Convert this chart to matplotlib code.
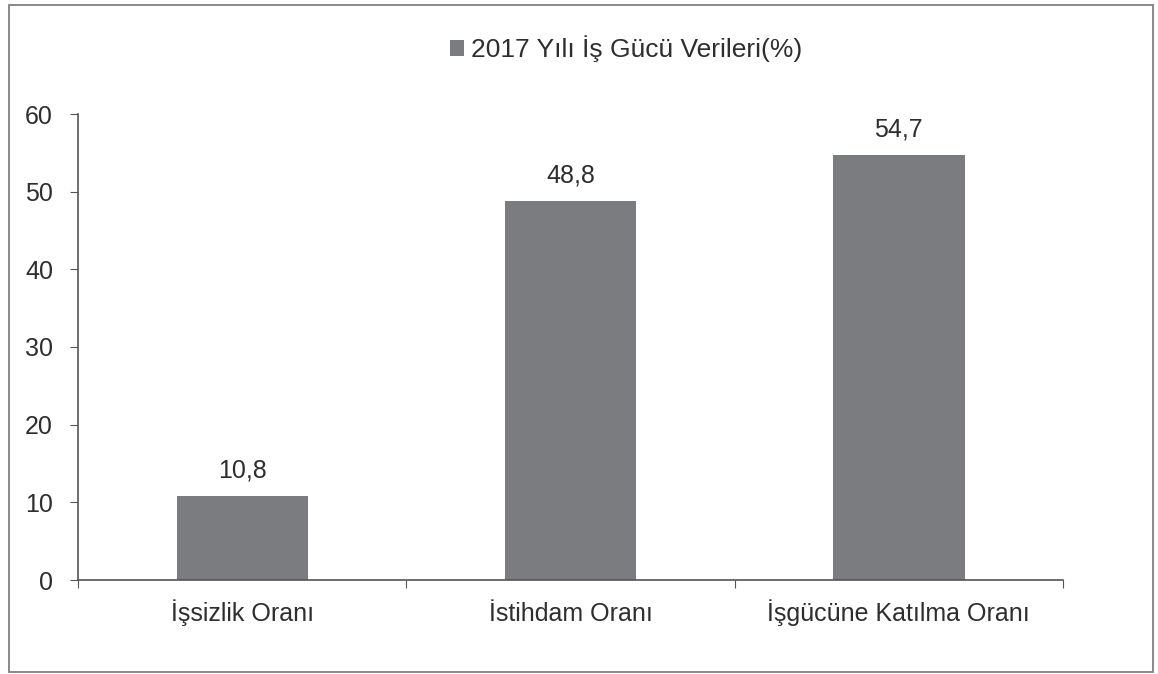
import matplotlib
matplotlib.use("Agg")
import matplotlib.pyplot as plt
from matplotlib.patches import Rectangle

plt.rcParams['font.family'] = ['Liberation Sans', 'DejaVu Sans']

categories = ["İşsizlik Oranı", "İstihdam Oranı", "İşgücüne Katılma Oranı"]
values = [10.8, 48.8, 54.7]
value_labels = ["10,8", "48,8", "54,7"]
series_name = "2017 Yılı İş Gücü Verileri(%)"
yticks = [0, 10, 20, 30, 40, 50, 60]

bar_color = "#7a7c80"
axis_color = "#555555"
text_color = "#2e2e2e"
FS = 18

W, H = 1158, 674
fig = plt.figure(figsize=(W / 100, H / 100), dpi=100)
fig.patch.set_facecolor("white")

# outer frame around the whole chart
fig.patches.append(Rectangle((9 / W, 1 - 672 / H), 1144 / W, 667 / H,
                             transform=fig.transFigure, fill=False,
                             edgecolor="#808080", linewidth=1.3))

ax = fig.add_axes([78 / W, 1 - 580 / H, 985 / W, 466 / H])
x = list(range(len(categories)))
bars = ax.bar(x, values, width=0.4, color=bar_color, label=series_name, zorder=2)

for xi, v, lab in zip(x, values, value_labels):
    ax.annotate(lab, (xi, v), xytext=(0, 13.5), textcoords="offset points",
                ha="center", va="baseline", fontsize=FS, color=text_color)

ax.set_xlim(-0.5, len(categories) - 0.5)
ax.set_ylim(0, 60)
ax.set_yticks(yticks)
ax.set_yticklabels([str(t) for t in yticks], fontsize=FS, color=text_color)
ax.tick_params(axis="y", direction="out", length=6, color=axis_color, pad=12)

# category boundaries carry the x tick marks
ax.set_xticks([i - 0.5 for i in range(len(categories) + 1)])
ax.set_xticklabels([])
ax.set_xticks(x, minor=True)
ax.set_xticklabels(categories, minor=True, fontsize=FS, color=text_color)
ax.tick_params(axis="x", which="major", direction="out", length=6, color=axis_color)
ax.tick_params(axis="x", which="minor", length=0, pad=29.5)
for lbl in ax.get_xticklabels(minor=True):
    lbl.set_verticalalignment("baseline")

for side in ("top", "right"):
    ax.spines[side].set_visible(False)
for side in ("left", "bottom"):
    ax.spines[side].set_color(axis_color)
    ax.spines[side].set_linewidth(1.2)

leg = fig.legend(handles=[bars], labels=[series_name], loc="center",
                 bbox_to_anchor=(626 / W, 1 - 49 / H), frameon=False,
                 fontsize=19, handlelength=0.55, handleheight=0.55, handletextpad=0.25)
for t in leg.get_texts():
    t.set_color(text_color)

fig.savefig("out.png", dpi=100, facecolor="white")
